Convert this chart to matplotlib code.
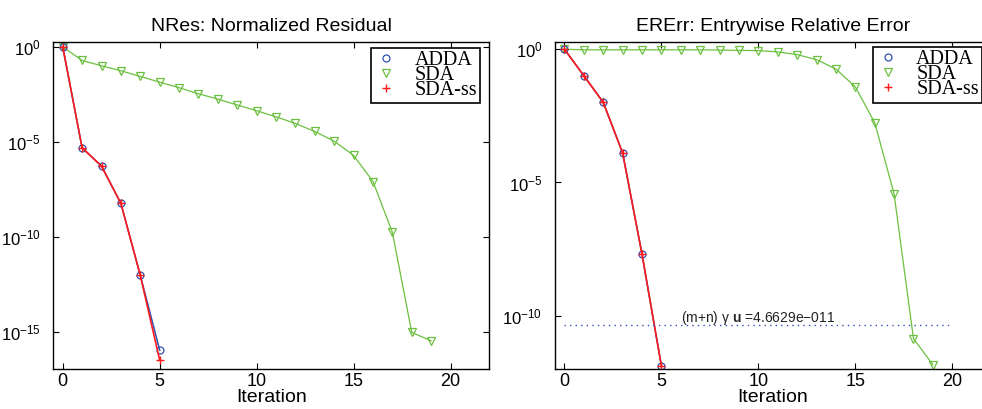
import numpy as np
import matplotlib
matplotlib.use('Agg')
import matplotlib.pyplot as plt
from matplotlib.lines import Line2D

plt.rcParams['font.family'] = ['Liberation Sans', 'DejaVu Sans']
plt.rcParams['mathtext.fontset'] = 'custom'
plt.rcParams['mathtext.rm'] = 'Liberation Sans'
plt.rcParams['mathtext.it'] = 'Liberation Sans:italic'
plt.rcParams['mathtext.bf'] = 'Liberation Sans:bold'

# NRes: log10 of normalized residual per iteration
nres_iter_fast = [0, 1, 2, 3, 4, 5]
nres_adda = [0, -5.31, -6.27, -8.23, -12.01, -15.94]
nres_sdass = [0, -5.31, -6.27, -8.23, -12.01, -16.46]
nres_iter_sda = list(range(20))
nres_sda = [0, -0.72, -1.0, -1.26, -1.56, -1.86, -2.15, -2.47, -2.75, -3.06,
            -3.36, -3.68, -4.03, -4.45, -4.96, -5.71, -7.08, -9.75, -15.01, -15.45]

# ERErr: log10 of entrywise relative error per iteration
err_iter_fast = [0, 1, 2, 3, 4, 5]
err_adda = [0, -0.99, -1.99, -3.89, -7.69, -11.88]
err_sdass = [0, -0.99, -1.99, -3.89, -7.69, -11.88]
err_iter_sda = list(range(20))
err_sda = [0, -0.02, -0.02, -0.02, -0.02, -0.02, -0.02, -0.02, -0.03, -0.04,
           -0.05, -0.1, -0.2, -0.39, -0.74, -1.41, -2.75, -5.43, -10.86, -11.84]

bound = 4.6629e-11
bound_label = r'(m+n) γ $\mathbf{u}$ =4.6629e$-$011'

c_adda = '#2f4fb0'
c_sda = '#6cc040'
c_sdass = '#ff1a1a'

fig = plt.figure(figsize=(9.82, 4.09), dpi=100)
ax1 = fig.add_axes([0.054, 0.0978, 0.4443, 0.7995])
ax2 = fig.add_axes([0.5649, 0.0978, 0.4443, 0.8003])


def draw(ax, it_fast, adda, sdass, it_sda, sda):
    ax.plot(it_sda, 10.0 ** np.array(sda), color=c_sda, lw=0.9, marker='v',
            ms=5.5, mfc='none', mec=c_sda, mew=0.9)
    ax.plot(it_fast, 10.0 ** np.array(adda), color=c_adda, lw=1.1, marker='o',
            ms=5, mfc='none', mec=c_adda, mew=0.9)
    ax.plot(it_fast, 10.0 ** np.array(sdass), color=c_sdass, lw=1.2, marker='+',
            ms=6, mec=c_sdass, mew=1.0)
    ax.set_yscale('log')
    ax.set_xlim(-0.5, 22)
    ax.set_xticks([0, 5, 10, 15, 20])
    ax.minorticks_off()
    ax.tick_params(direction='in', top=True, right=True, length=4, width=0.8)
    ax.tick_params(axis='x', pad=3, labelsize=13)
    ax.tick_params(axis='y', pad=9, labelsize=12)
    for s in ax.spines.values():
        s.set_linewidth(1.0)
    ax.set_xlabel('Iteration', fontsize=14, labelpad=-1)
    handles = [Line2D([], [], ls='none', marker='o', ms=5, mfc='none', mec=c_adda, mew=0.9),
               Line2D([], [], ls='none', marker='v', ms=5.5, mfc='none', mec=c_sda, mew=0.9),
               Line2D([], [], ls='none', marker='+', ms=6, mec=c_sdass, mew=1.0)]
    leg = ax.legend(handles, ['ADDA', 'SDA', 'SDA-ss'], loc='upper right',
                    bbox_to_anchor=(0.979, 0.983), borderaxespad=0,
                    prop={'family': 'Liberation Serif', 'size': 14.5},
                    fancybox=False, framealpha=1, edgecolor='black',
                    labelspacing=-0.2, handlelength=1.2, handletextpad=0.8,
                    borderpad=0.15)
    leg.get_frame().set_linewidth(1.2)


draw(ax1, nres_iter_fast, nres_adda, nres_sdass, nres_iter_sda, nres_sda)
ax1.set_ylim(10 ** -16.93, 10 ** 0.25)
ax1.set_yticks([1e0, 1e-5, 1e-10, 1e-15])
ax1.set_title('NRes: Normalized Residual', fontsize=14, pad=8)

draw(ax2, err_iter_fast, err_adda, err_sdass, err_iter_sda, err_sda)
ax2.set_ylim(10 ** -12.0, 10 ** 0.285)
ax2.set_yticks([1e0, 1e-5, 1e-10])
ax2.minorticks_off()
ax2.plot([0, 20], [bound, bound], ls=(0, (1, 3)), color=c_adda, lw=1.0)
ax2.text(6, 10 ** -10.24, bound_label, fontsize=10, color='#222222',
         va='baseline', ha='left')
ax2.set_title('ERErr: Entrywise Relative Error', fontsize=14, pad=8)

fig.savefig('out.png', dpi=100)
